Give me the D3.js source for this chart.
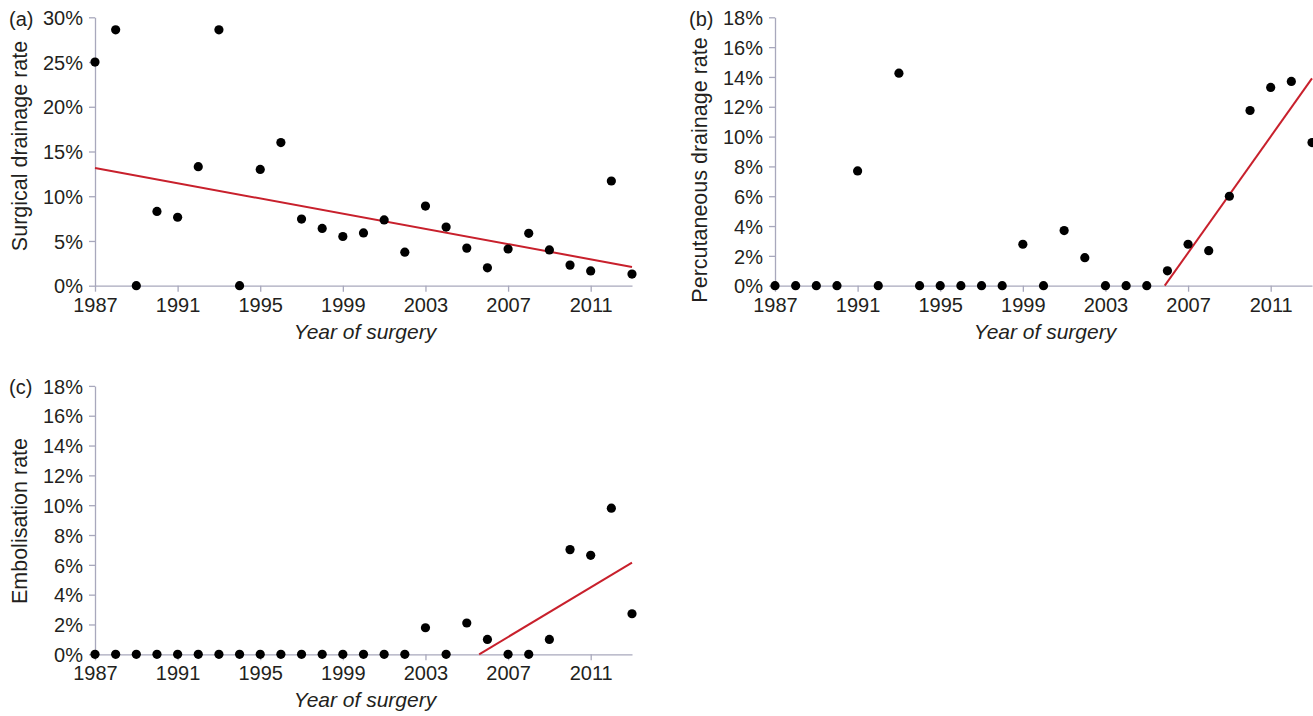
<!DOCTYPE html>
<html>
<head>
<meta charset="utf-8">
<script src="https://cdn.jsdelivr.net/npm/d3@7"></script>
<style>
  html, body { margin: 0; padding: 0; background: #fff; }
  svg { display: block; }
  .axis path, .axis line { stroke: #a8a8bc; stroke-width: 1.3; }
  .axis text { fill: #231f20; font-family: "Liberation Sans", Arial, sans-serif; font-size: 20px; }
  .title { fill: #231f20; font-family: "Liberation Sans", Arial, sans-serif; }
</style>
</head>
<body>
<div id="chart"></div>
<script>
// years of surgery
const years = d3.range(1987, 2014);
const yearTicks = [1987, 1991, 1995, 1999, 2003, 2007, 2011];

// (a) surgical drainage rate, %
const surgical = [25.0, 28.6, 0, 8.3, 7.65, 13.3, 28.6, 0, 13.0, 16.0, 7.45, 6.4,
  5.5, 5.9, 7.35, 3.75, 8.9, 6.55, 4.2, 2.0, 4.1, 5.85, 4.0, 2.3, 1.65, 11.7, 1.3];
const surgicalTrend = [[1987, 13.15], [2013, 2.1]];

// (b) percutaneous drainage rate, %
const percutaneous = [0, 0, 0, 0, 7.7, 0, 14.25, 0, 0, 0, 0, 0,
  2.78, 0, 3.7, 1.88, 0, 0, 0, 1.0, 2.78, 2.35, 6.0, 11.75, 13.3, 13.7, 9.6];
const percutaneousTrend = [[2005.87, 0], [2013, 13.9]];

// (c) embolisation rate, %
const embolisation = [0, 0, 0, 0, 0, 0, 0, 0, 0, 0, 0, 0,
  0, 0, 0, 0, 1.78, 0, 2.1, 1.0, 0, 0, 1.0, 7.02, 6.64, 9.8, 2.72];
const embolisationTrend = [[2005.6, 0], [2013, 6.15]];

const width = 1313, height = 716;

const svg = d3.select('#chart')
  .append('svg')
  .attr('width', width)
  .attr('height', height);

const drawPanel = cfg => {
  const x = d3.scaleLinear().domain([1987, 2013]).range([cfg.x0, cfg.x0 + 537]);
  const y = d3.scaleLinear().domain([0, cfg.yMax]).range([cfg.y0, cfg.y0 - 268.4]);

  const g = svg.append('g');

  // y axis
  g.append('g')
    .attr('class', 'axis')
    .attr('transform', `translate(${cfg.x0},0)`)
    .call(d3.axisLeft(y).tickValues(d3.range(0, cfg.yMax + 0.01, cfg.yStep))
      .tickSize(6).tickPadding(6).tickSizeOuter(0).tickFormat(d => d + '%'))
    .selectAll('text')
    .attr('dy', '0.36em');

  // x axis
  g.append('g')
    .attr('class', 'axis')
    .attr('transform', `translate(0,${cfg.y0})`)
    .call(d3.axisBottom(x).tickValues(yearTicks)
      .tickSize(6).tickPadding(6).tickSizeOuter(0).tickFormat(d3.format('d')));

  // trend line
  g.append('path')
    .datum(cfg.trend)
    .attr('d', d3.line().x(d => x(d[0])).y(d => y(d[1])))
    .attr('fill', 'none')
    .attr('stroke', '#c8202c')
    .attr('stroke-width', 2);

  // points
  g.selectAll('.dot')
    .data(cfg.values.map((v, i) => ({ year: years[i], value: v })))
    .enter()
    .append('circle')
    .attr('class', 'dot')
    .attr('cx', d => x(d.year))
    .attr('cy', d => y(d.value))
    .attr('r', 4.6)
    .attr('fill', '#000');

  // panel letter
  g.append('text')
    .attr('class', 'title')
    .attr('x', cfg.x0 - 86)
    .attr('y', cfg.y0 - 260)
    .style('font-size', '20px')
    .text(cfg.letter);

  // y title
  g.append('text')
    .attr('class', 'title')
    .attr('transform', `translate(${cfg.x0 - 68},${cfg.yTitleY}) rotate(-90)`)
    .attr('text-anchor', 'middle')
    .style('font-size', '21.5px')
    .text(cfg.yTitle);

  // x title
  g.append('text')
    .attr('class', 'title')
    .attr('x', cfg.x0 + 270)
    .attr('y', cfg.y0 + 53)
    .attr('text-anchor', 'middle')
    .style('font-size', '21px')
    .style('font-style', 'italic')
    .text('Year of surgery');
};

drawPanel({ x0: 95, y0: 285.7, yMax: 30, yStep: 5, values: surgical, trend: surgicalTrend,
  letter: '(a)', yTitle: 'Surgical drainage rate', yTitleY: 146 });
drawPanel({ x0: 775, y0: 285.7, yMax: 18, yStep: 2, values: percutaneous, trend: percutaneousTrend,
  letter: '(b)', yTitle: 'Percutaneous drainage rate', yTitleY: 170 });
drawPanel({ x0: 95, y0: 654.3, yMax: 18, yStep: 2, values: embolisation, trend: embolisationTrend,
  letter: '(c)', yTitle: 'Embolisation rate', yTitleY: 521 });
</script>
</body>
</html>
